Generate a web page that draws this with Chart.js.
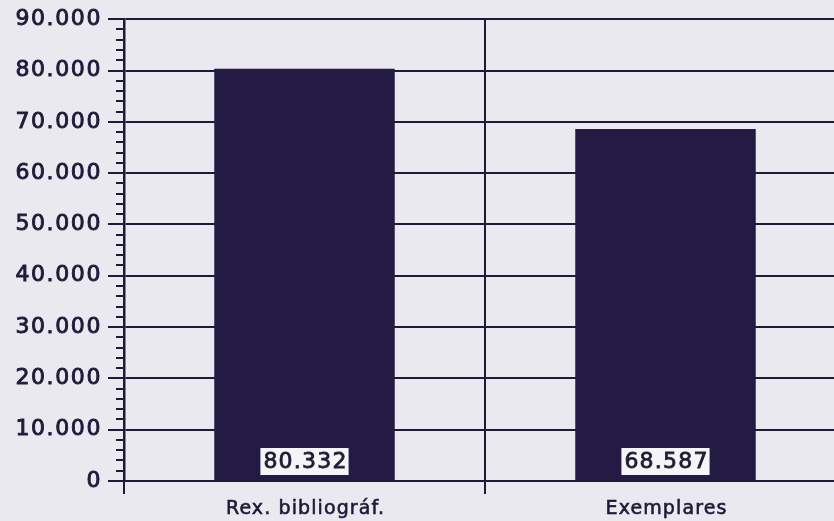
<!DOCTYPE html>
<html>
<head>
<meta charset="utf-8">
<script src="https://cdn.jsdelivr.net/npm/chart.js@4.4.1/dist/chart.umd.min.js"></script>
<style>
    html, body { margin: 0; padding: 0; overflow: hidden; background: #eae9f0; }
    #caixa { width: 860px; height: 521px; position: relative; }
</style>
</head>
<body>
<div id="caixa"><canvas id="graficoRexistros"></canvas></div>
<script>
// dados
const categorias = ['Rex. bibliográf.', 'Exemplares']
const valores = [80332, 68587]
const eixoYMin = 0
const eixoYMax = 90000
const passoMaior = 10000
const passoMenor = 2000

const corEscura = '#1e1a38'
const corBarra = '#241b45'
const fonte = 'DejaVu Sans'

function formatarNumero(v){
    return String(v).replace(/\B(?=(\d{3})+(?!\d))/g, '.')
}

// espacamento de letras para imitar a fonte larga do original
const pluginEspacamento = {
    id: 'espacamento',
    beforeDraw(chart){
        chart.ctx.letterSpacing = '1.6px'
    }
}

// marcas menores do eixo Y e rótulos das categorias
const pluginEixos = {
    id: 'eixos',
    afterDraw(chart){
        const ctx = chart.ctx
        const y = chart.scales.y
        const x = chart.scales.x
        ctx.save()
        ctx.strokeStyle = corEscura
        ctx.lineWidth = 2
        for( let v = eixoYMin; v <= eixoYMax; v += passoMenor ){
            if( v % passoMaior === 0 ) continue
            const py = Math.round(y.getPixelForValue(v))
            ctx.beginPath()
            ctx.moveTo(y.right - 8, py)
            ctx.lineTo(y.right, py)
            ctx.stroke()
        }
        ctx.letterSpacing = '1.1px'
        ctx.font = `19px "${fonte}"`
        ctx.fillStyle = corEscura
        ctx.strokeStyle = corEscura
        ctx.lineWidth = 0.6
        ctx.textAlign = 'center'
        ctx.textBaseline = 'alphabetic'
        categorias.forEach((cat, i) => {
            const px = x.getPixelForValue(i) + 1
            const py = chart.chartArea.bottom + 33
            ctx.fillText(cat, px, py)
            ctx.strokeText(cat, px, py)
        })
        ctx.restore()
    }
}

// caixas brancas com o valor ao pé de cada barra
const pluginRotulos = {
    id: 'rotulos',
    afterDatasetsDraw(chart){
        const ctx = chart.ctx
        const y = chart.scales.y
        const meta = chart.getDatasetMeta(0)
        ctx.save()
        ctx.letterSpacing = '1.2px'
        ctx.font = `22px "${fonte}"`
        ctx.textAlign = 'center'
        ctx.textBaseline = 'middle'
        meta.data.forEach((barra, i) => {
            const texto = formatarNumero(valores[i])
            const largura = ctx.measureText(texto).width + 4
            const base = y.getPixelForValue(0) - 6
            const alto = 27
            ctx.fillStyle = '#f5f4f7'
            ctx.fillRect(barra.x - largura / 2, base - alto, largura, alto)
            ctx.fillStyle = '#1f1c33'
            ctx.strokeStyle = '#1f1c33'
            ctx.lineWidth = 0.8
            ctx.fillText(texto, barra.x + 1, base - alto / 2 + 1)
            ctx.strokeText(texto, barra.x + 1, base - alto / 2 + 1)
        })
        ctx.restore()
    }
}

class GraficoRexistros {
    constructor(){
        this.grafico = null
        this.idCanvas = 'graficoRexistros'
    }

    obterConfiguracao(){
        return {
            type: 'bar',
            data: {
                labels: categorias,
                datasets: [{
                    data: valores,
                    backgroundColor: corBarra,
                    borderWidth: 0,
                    barPercentage: 0.5,
                    categoryPercentage: 1.0
                }]
            },
            options: {
                responsive: true,
                maintainAspectRatio: false,
                animation: false,
                layout: {
                    padding: { left: 8, right: 14, top: 13, bottom: 27 }
                },
                scales: {
                    x: {
                        offset: true,
                        grid: {
                            offset: true,
                            color: corEscura,
                            lineWidth: 2,
                            tickLength: 13
                        },
                        border: { color: corEscura, width: 2 },
                        ticks: { display: false }
                    },
                    y: {
                        min: eixoYMin,
                        max: eixoYMax,
                        afterFit: (escala) => { escala.width = 116 },
                        grid: {
                            color: corEscura,
                            lineWidth: 2,
                            tickLength: 16
                        },
                        border: { color: corEscura, width: 2.5 },
                        ticks: {
                            stepSize: passoMaior,
                            padding: 6,
                            color: corEscura,
                            textStrokeColor: corEscura,
                            textStrokeWidth: 0.9,
                            font: { family: fonte, size: 22 },
                            callback: (v) => formatarNumero(v)
                        }
                    }
                },
                plugins: {
                    legend: { display: false },
                    tooltip: { enabled: false }
                }
            },
            plugins: [pluginEspacamento, pluginRotulos, pluginEixos]
        }
    }

    plotarGrafico(){
        if( this.grafico != null ){
            this.grafico.destroy()
        }
        const canvas = document.getElementById(this.idCanvas)
        this.grafico = new Chart(canvas, this.obterConfiguracao())
    }
}

let graficoRexistros = new GraficoRexistros()
graficoRexistros.plotarGrafico()
</script>
</body>
</html>
